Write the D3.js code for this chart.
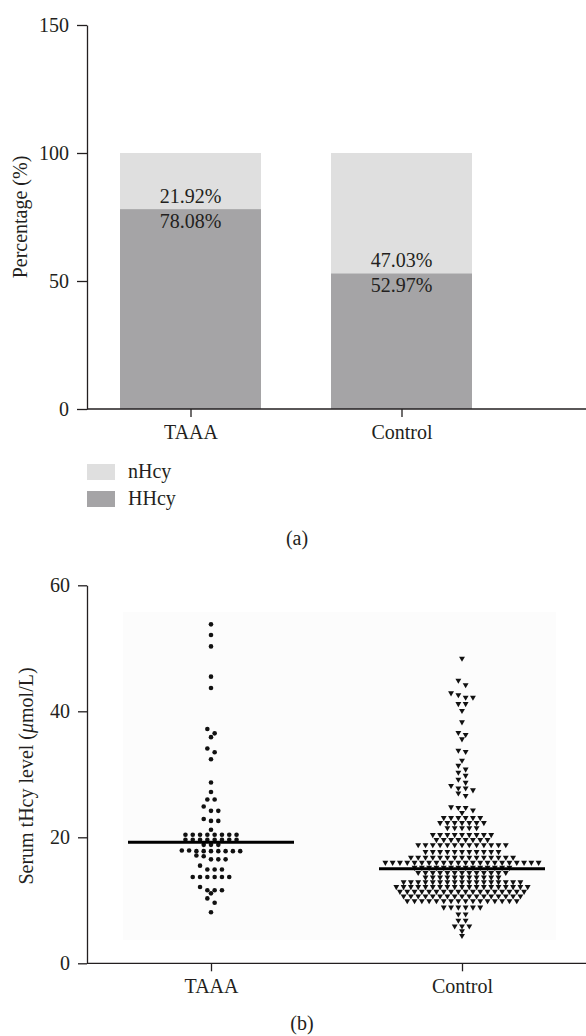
<!DOCTYPE html>
<html>
<head>
<meta charset="utf-8">
<script src="https://cdn.jsdelivr.net/npm/d3@7"></script>
<style>
  body { margin: 0; background: #fff; }
  svg text { font-family: "Liberation Serif", "DejaVu Serif", serif; fill: #231f20; }
  .axis path, .axis line { stroke: #231f20; stroke-width: 1.3; }
</style>
</head>
<body>
<div id="chartDiv"></div>
<script>
// panel (a): stacked percentages
var categories = ["TAAA", "Control"];
var hhcyPct = [78.08, 52.97];
var nhcyPct = [21.92, 47.03];
var pctTicks = [0, 50, 100, 150];
var legendLabels = ["nHcy", "HHcy"];

// panel (b): serum tHcy (umol/L)
var levelTicks = [0, 20, 40, 60];
var medianLevels = [19.2, 15.0];
var taaaLevels = [
	53.8, 52.1, 50.3, 45.5, 43.7, 37.2, 36.5, 35.9, 34.1, 33.5, 32.4,
	28.7, 27.2, 26.0, 26.0, 24.9, 24.2, 24.2, 22.9, 22.6, 22.6, 21.2,
	20.4, 20.4, 20.4, 20.4, 20.4, 20.4, 20.4, 20.4,
	19.6, 19.6, 19.6, 19.6, 19.6, 19.6, 19.6, 19.6,
	18.8, 18.8, 18.8,
	17.9, 17.9, 17.8, 17.8, 17.8, 17.8, 17.8, 17.8, 17.8,
	17.1, 17.0, 16.5, 16.5, 16.5,
	15.5, 14.9, 14.9, 14.9,
	13.7, 13.7, 13.7, 13.7, 13.7, 13.7,
	12.1, 11.6, 11.6, 11.6, 11.1, 10.3, 9.6, 8.1
];
var controlLevels = [
	48.4, 44.9, 44.2, 42.9, 42.6, 42.2, 42.2, 41.2, 41.2, 40.1, 38.3,
	36.6, 36.3, 35.6, 33.8, 33.6, 32.2, 31.4, 30.8, 30.3, 29.8, 29.2, 28.7,
	28.2, 27.8, 27.8, 27.5, 27.0, 26.6, 24.8, 24.7, 24.7, 24.3, 23.9,
	23.1, 23.1, 23.1, 23.1, 23.1, 23.1,
	22.3, 22.3, 22.3, 22.3, 22.3, 22.3, 22.3,
	21.5, 21.5, 21.5, 21.5, 21.5,
	20.4, 20.4, 20.4, 20.4, 20.4, 20.4, 20.4, 20.4, 20.4,
	19.6, 19.6, 19.6, 19.6, 19.6, 19.6, 19.6, 19.6,
	18.8, 18.8, 18.8, 18.8, 18.8, 18.8, 18.8, 18.8, 18.8, 18.8, 18.8, 18.8, 18.8,
	17.7, 17.7, 17.7, 17.7, 17.7, 17.7, 17.7, 17.7, 17.7, 17.7, 17.7,
	16.8, 16.8, 16.8, 16.8, 16.8, 16.8, 16.8, 16.8, 16.8, 16.8, 16.8, 16.8, 16.8, 16.8, 16.8,
	16.0, 16.0, 16.0, 16.0, 16.0, 16.0, 16.0, 16.0, 16.0, 16.0, 16.0,
	16.0, 16.0, 16.0, 16.0, 16.0, 16.0, 16.0, 16.0, 16.0, 16.0, 16.0,
	15.2, 15.2, 15.2, 15.2, 15.2, 15.2, 15.2, 15.2, 15.2, 15.2, 15.2, 15.2, 15.2, 15.2,
	14.4, 14.4, 14.4, 14.4, 14.4, 14.4, 14.4, 14.4, 14.4, 14.4, 14.4, 14.4, 14.4,
	13.65, 13.65, 13.65, 13.65, 13.65, 13.65, 13.65, 13.65, 13.65, 13.65, 13.65,
	12.9, 12.9, 12.9, 12.9, 12.9, 12.9, 12.9, 12.9, 12.9, 12.9, 12.9, 12.9, 12.9, 12.9, 12.9, 12.9, 12.9,
	12.15, 12.15, 12.15, 12.15, 12.15, 12.15, 12.15, 12.15, 12.15, 12.15,
	12.15, 12.15, 12.15, 12.15, 12.15, 12.15, 12.15, 12.15, 12.15,
	11.4, 11.4, 11.4, 11.4, 11.4, 11.4, 11.4, 11.4, 11.4,
	11.4, 11.4, 11.4, 11.4, 11.4, 11.4, 11.4, 11.4, 11.4,
	10.65, 10.65, 10.65, 10.65, 10.65, 10.65, 10.65, 10.65, 10.65,
	10.65, 10.65, 10.65, 10.65, 10.65, 10.65, 10.65, 10.65,
	9.9, 9.9, 9.9, 9.9, 9.9, 9.9, 9.9, 9.9, 9.9, 9.9, 9.9, 9.9, 9.9, 9.9, 9.9, 9.9,
	8.9, 8.9, 8.9, 8.9, 8.9, 8.9,
	7.8, 7.8, 6.8, 6.8, 5.9, 5.9, 5.9, 5.15, 4.4
];

;(function() {

	var width = 586;
	var height = 1036;
	var axisColor = "#231f20";
	var darkGrey = "#a5a4a6";
	var lightGrey = "#dfdfdf";
	var fontSize = "20px";

	var svg = d3.select("#chartDiv").append("svg")
		.attr("width", width)
		.attr("height", height);

	// ---------- (a) ----------
	var yA = d3.scaleLinear().domain([0, 150]).range([409, 25]);
	var xA = d3.scalePoint().domain(categories).range([190.5, 401.5]);
	var barWidth = 141;

	var bars = svg.append("g");
	categories.forEach(function(c, i) {
		bars.append("rect")
			.attr("x", xA(c) - barWidth / 2)
			.attr("width", barWidth)
			.attr("y", yA(hhcyPct[i] + nhcyPct[i]))
			.attr("height", yA(hhcyPct[i]) - yA(hhcyPct[i] + nhcyPct[i]))
			.attr("fill", lightGrey);
		bars.append("rect")
			.attr("x", xA(c) - barWidth / 2)
			.attr("width", barWidth)
			.attr("y", yA(hhcyPct[i]))
			.attr("height", yA(0) - yA(hhcyPct[i]))
			.attr("fill", darkGrey);
		bars.append("text")
			.attr("x", xA(c))
			.attr("y", yA(hhcyPct[i]) - 6)
			.attr("text-anchor", "middle")
			.style("font-size", fontSize)
			.text(nhcyPct[i].toFixed(2) + "%");
		bars.append("text")
			.attr("x", xA(c))
			.attr("y", yA(hhcyPct[i]) + 19)
			.attr("text-anchor", "middle")
			.style("font-size", fontSize)
			.text(hhcyPct[i].toFixed(2) + "%");
	});

	var yAxisA = svg.append("g")
		.attr("class", "axis")
		.attr("transform", "translate(87,0)")
		.call(d3.axisLeft(yA).tickValues(pctTicks).tickSize(10).tickSizeOuter(0).tickPadding(8));
	yAxisA.selectAll("text").style("font-size", fontSize).attr("fill", axisColor);

	svg.append("line")
		.attr("x1", 87).attr("x2", 586)
		.attr("y1", yA(0)).attr("y2", yA(0))
		.attr("stroke", axisColor).attr("stroke-width", 1.3);

	var xAxisA = svg.append("g")
		.attr("class", "axis")
		.attr("transform", "translate(0," + yA(0) + ")")
		.call(d3.axisBottom(xA).tickSize(8).tickSizeOuter(0).tickPadding(8));
	xAxisA.select(".domain").remove();
	xAxisA.selectAll("text").style("font-size", fontSize).attr("fill", axisColor);

	svg.append("text")
		.attr("text-anchor", "middle")
		.attr("transform", "translate(27,217) rotate(-90)")
		.style("font-size", fontSize)
		.text("Percentage (%)");

	// legend
	var legendColors = [lightGrey, darkGrey];
	legendLabels.forEach(function(l, i) {
		svg.append("rect")
			.attr("x", 87).attr("y", 464 + i * 27)
			.attr("width", 28).attr("height", 16)
			.attr("fill", legendColors[i]);
		svg.append("text")
			.attr("x", 128).attr("y", 478 + i * 27)
			.style("font-size", fontSize)
			.text(l);
	});

	svg.append("text")
		.attr("x", 297).attr("y", 545)
		.attr("text-anchor", "middle")
		.style("font-size", fontSize)
		.text("(a)");

	// ---------- (b) ----------
	var yB = d3.scaleLinear().domain([0, 60]).range([963.3, 585.3]);
	var xB = d3.scalePoint().domain(categories).range([211, 462]);

	svg.append("rect")
		.attr("x", 123).attr("y", 612)
		.attr("width", 433).attr("height", 328)
		.attr("fill", "#fcfcfc");

	// GraphPad-like row layout: close values share a row, centred on the column
	function swarm(values, cx, gap, rowH) {
		var sorted = values.slice().sort(function(a, b) { return b - a; });
		var rows = [];
		var cur = null;
		sorted.forEach(function(v) {
			var py = yB(v);
			if (!cur || py - cur.y0 > rowH) {
				cur = { y0: py, items: [] };
				rows.push(cur);
			}
			cur.items.push(py);
		});
		var pts = [];
		rows.forEach(function(r) {
			var n = r.items.length;
			r.items.forEach(function(py, i) {
				pts.push({ x: cx + (i - (n - 1) / 2) * gap, y: py });
			});
		});
		return pts;
	}

	var taaaPts = swarm(taaaLevels, xB("TAAA"), 7.3, 4.5);
	var controlPts = swarm(controlLevels, xB("Control"), 7.3, 4.5);

	svg.append("g").selectAll("circle")
		.data(taaaPts)
		.enter().append("circle")
		.attr("cx", function(d) { return d.x; })
		.attr("cy", function(d) { return d.y; })
		.attr("r", 2.3)
		.attr("fill", "#111");

	var tri = d3.symbol().type(d3.symbolTriangle).size(15);
	svg.append("g").selectAll("path")
		.data(controlPts)
		.enter().append("path")
		.attr("d", tri)
		.attr("transform", function(d) { return "translate(" + d.x + "," + d.y + ") rotate(180)"; })
		.attr("fill", "#111");

	categories.forEach(function(c, i) {
		svg.append("line")
			.attr("x1", xB(c) - 83).attr("x2", xB(c) + 83)
			.attr("y1", yB(medianLevels[i])).attr("y2", yB(medianLevels[i]))
			.attr("stroke", "#000").attr("stroke-width", 3);
	});

	var yAxisB = svg.append("g")
		.attr("class", "axis")
		.attr("transform", "translate(87,0)")
		.call(d3.axisLeft(yB).tickValues(levelTicks).tickSize(9).tickSizeOuter(0).tickPadding(8));
	yAxisB.selectAll("text").style("font-size", fontSize).attr("fill", axisColor);

	svg.append("line")
		.attr("x1", 87).attr("x2", 586)
		.attr("y1", yB(0)).attr("y2", yB(0))
		.attr("stroke", axisColor).attr("stroke-width", 1.3);

	var xAxisB = svg.append("g")
		.attr("class", "axis")
		.attr("transform", "translate(0," + yB(0) + ")")
		.call(d3.axisBottom(xB).tickSize(8).tickSizeOuter(0).tickPadding(8));
	xAxisB.select(".domain").remove();
	xAxisB.selectAll("text").style("font-size", fontSize).attr("fill", axisColor);

	var yTitle = svg.append("text")
		.attr("text-anchor", "middle")
		.attr("transform", "translate(33,776) rotate(-90)")
		.style("font-size", fontSize);
	yTitle.append("tspan").text("Serum tHcy level (");
	yTitle.append("tspan").style("font-style", "italic").text("\u03bc");
	yTitle.append("tspan").text("mol/L)");

	svg.append("text")
		.attr("x", 302).attr("y", 1030)
		.attr("text-anchor", "middle")
		.style("font-size", fontSize)
		.text("(b)");

})();
</script>
</body>
</html>
